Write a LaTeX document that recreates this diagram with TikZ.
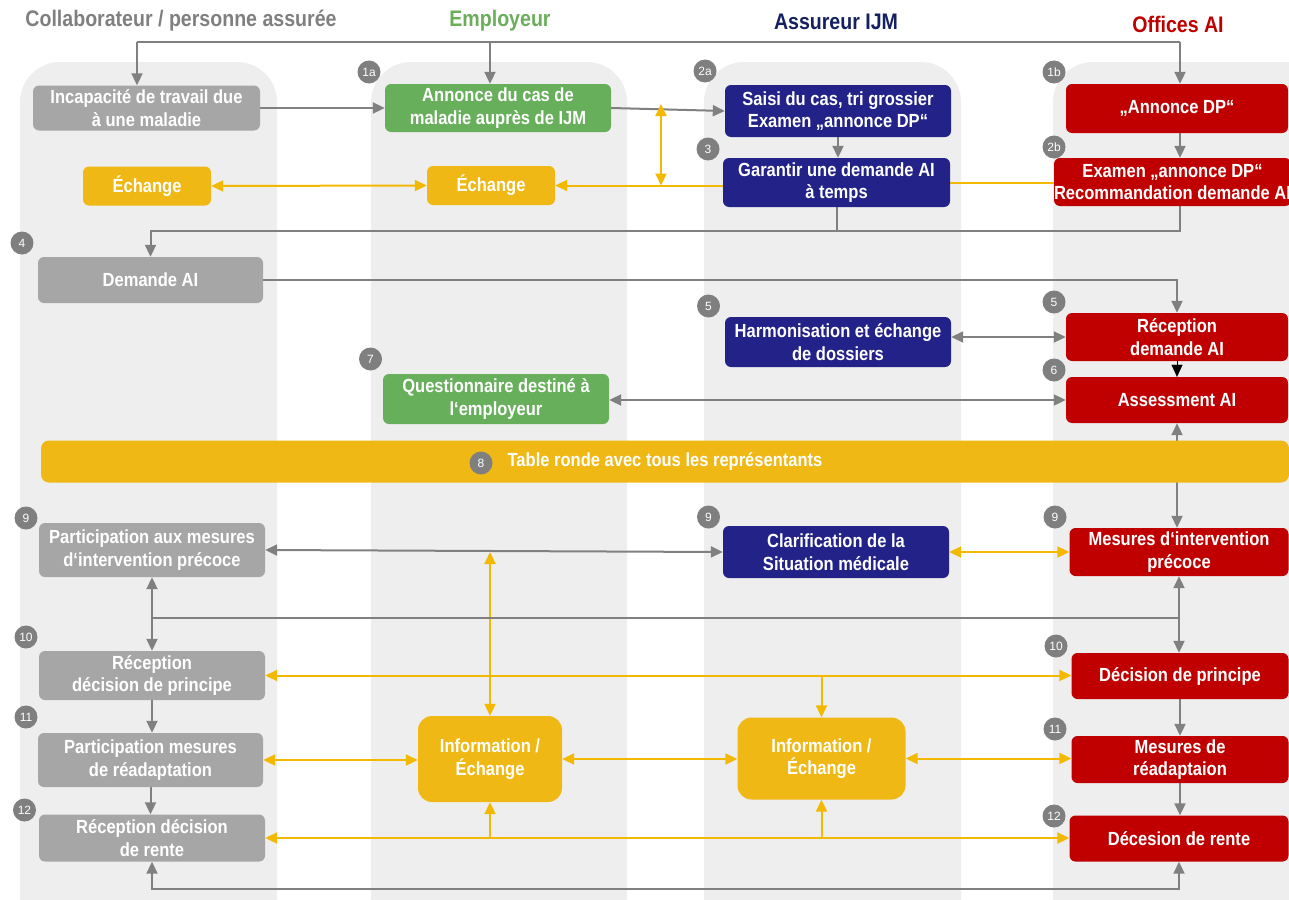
\documentclass[tikz,border=0pt]{standalone}
\usepackage{fontspec}
\setmainfont{Liberation Sans}[FakeStretch=0.87]
\newfontfamily\badgefont{Liberation Sans}
\usetikzlibrary{arrows.meta}
\definecolor{lanebg}{HTML}{EEEEEE}
\definecolor{boxgray}{HTML}{A6A6A6}
\definecolor{linegray}{HTML}{808080}
\definecolor{badgegray}{HTML}{7F7F7F}
\definecolor{boxgreen}{HTML}{67AF5B}
\definecolor{boxnavy}{HTML}{222288}
\definecolor{boxred}{HTML}{C00000}
\definecolor{boxyellow}{HTML}{EFB815}
\definecolor{lineyellow}{HTML}{F3B800}
\definecolor{hgray}{HTML}{7F7F7F}
\definecolor{hgreen}{HTML}{6AAE5A}
\definecolor{hnavy}{HTML}{142060}
\definecolor{hred}{HTML}{C00000}
\pgfdeclarelayer{lanes}
\pgfdeclarelayer{conn}
\pgfsetlayers{lanes,conn,main}
\tikzset{
  lane/.style={fill=lanebg, draw=none, rounded corners=40pt},
  box/.style={rounded corners=6pt, text=white, align=center, inner sep=0pt,
    font=\bfseries\fontsize{19}{22.5}\selectfont},
  gbox/.style={box, fill=boxgray},
  grbox/.style={box, fill=boxgreen},
  nbox/.style={box, fill=boxnavy},
  rbox/.style={box, fill=boxred},
  ybox/.style={box, fill=boxyellow},
  infobox/.style={ybox, rounded corners=14pt},
  head/.style={inner sep=0pt, font=\bfseries\fontsize{22.5}{26}\selectfont},
  badge/.style={circle, fill=badgegray, text=white, minimum size=23pt, inner sep=0pt,
    font=\badgefont\fontsize{12}{12}\selectfont},
  gl/.style={draw=linegray, line width=2pt},
  yl/.style={draw=lineyellow, line width=2pt},
  >={Triangle[width=11pt,length=12pt]},
}
\begin{document}
\begin{tikzpicture}[x=1pt,y=-1pt]
\useasboundingbox (0,0) rectangle (1289,899);
% lanes
\begin{pgfonlayer}{lanes}
\fill[lane] (20,62) rectangle (277,940);
\fill[lane] (371,62) rectangle (627,940);
\fill[lane] (704,62) rectangle (961,940);
\fill[lane] (1053,62) rectangle (1340,940);
\end{pgfonlayer}
% headers
\node[head, text=hgray] (h1) at (181,21) {Collaborateur / personne assurée};
\node[head, text=hgreen] (h2) at (500,21) {Employeur};
\node[head, text=hnavy] (h3) at (836,22) {Assureur IJM};
\node[head, text=hred] (h4) at (1178,24) {Offices AI};
% lane 1 boxes
\node[gbox, minimum width=227pt, minimum height=45pt] (inc) at (146.5,108) {Incapacité de travail due\\à une maladie};
\node[ybox, minimum width=128pt, minimum height=39pt] (ech1) at (147,186) {Échange};
\node[gbox, minimum width=225pt, minimum height=46pt] (dem) at (150.5,280) {Demande AI};
\node[gbox, minimum width=226pt, minimum height=54pt] (part9) at (152,550) {Participation aux mesures\\d‘intervention précoce};
\node[gbox, minimum width=226pt, minimum height=49pt] (rec10) at (152,675.5) {Réception\\décision de principe};
\node[gbox, minimum width=225pt, minimum height=54pt] (part11) at (150.5,760) {Participation mesures\\de réadaptation};
\node[gbox, minimum width=226pt, minimum height=47pt] (rec12) at (152,838) {Réception décision\\de rente};
% lane 2 boxes
\node[grbox, minimum width=226pt, minimum height=48pt] (ann) at (498,108) {Annonce du cas de\\maladie auprès de IJM};
\node[ybox, minimum width=128pt, minimum height=39pt] (ech2) at (491,185.5) {Échange};
\node[grbox, minimum width=226pt, minimum height=50pt] (quest) at (496,399) {Questionnaire destiné à\\l‘employeur};
\node[infobox, minimum width=144pt, minimum height=86pt] (info1) at (490,759) {Information /\\Échange};
% lane 3 boxes
\node[nbox, minimum width=226pt, minimum height=52pt] (saisi) at (838,111) {Saisi du cas, tri grossier\\Examen „annonce DP“};
\node[nbox, minimum width=227pt, minimum height=49pt] (gar) at (836.5,182.5) {Garantir une demande AI\\à temps};
\node[nbox, minimum width=226pt, minimum height=50pt] (harm) at (838,342) {Harmonisation et échange\\de dossiers};
\node[nbox, minimum width=226pt, minimum height=52pt] (clar) at (836,552) {Clarification de la\\Situation médicale};
\node[infobox, minimum width=168pt, minimum height=82pt] (info2) at (821.5,758.5) {Information /\\Échange};
% lane 4 boxes
\node[rbox, minimum width=222pt, minimum height=49pt] (adp) at (1177,108.5) {„Annonce DP“};
\node[rbox, minimum width=231pt, minimum height=48pt] (exam) at (1172.5,182) {Examen „annonce DP“\\Recommandation demande AI};
\node[rbox, minimum width=222pt, minimum height=48pt] (recAI) at (1177,337) {Réception\\demande AI};
\node[rbox, minimum width=222pt, minimum height=46pt] (ass) at (1177,400) {Assessment AI};
\node[rbox, minimum width=219pt, minimum height=48pt] (mes9) at (1179,552) {Mesures d‘intervention\\précoce};
\node[rbox, minimum width=217pt, minimum height=46pt] (dec10) at (1180,676) {Décision de principe};
\node[rbox, minimum width=217pt, minimum height=47pt] (mes11) at (1180,759.5) {Mesures de\\réadaptaion};
\node[rbox, minimum width=219pt, minimum height=46pt] (dec12) at (1179,838.5) {Décesion de rente};
% table ronde
\node[ybox, rounded corners=8pt, minimum width=1248pt, minimum height=42pt] (tr) at (665,461.5) {Table ronde avec tous les représentants};
% badges
\node[badge] (b1a) at (369,72) {1a};
\node[badge] (b2a) at (705,71) {2a};
\node[badge] (b1b) at (1054,72) {1b};
\node[badge] (b3) at (708,149) {3};
\node[badge] (b2b) at (1054,147) {2b};
\node[badge] (b4) at (22,243) {4};
\node[badge] (b5a) at (708.5,306) {5};
\node[badge] (b5b) at (1054,302) {5};
\node[badge] (b6) at (1054,370) {6};
\node[badge] (b7) at (370.5,359) {7};
\node[badge] (b8) at (481,463) {8};
\node[badge] (b9a) at (26,518) {9};
\node[badge] (b9b) at (708.5,517) {9};
\node[badge] (b9c) at (1055,517) {9};
\node[badge] (b10a) at (26,637) {10};
\node[badge] (b10b) at (1056,646) {10};
\node[badge] (b11a) at (26,717) {11};
\node[badge] (b11b) at (1055,729) {11};
\node[badge] (b12a) at (24.5,810) {12};
\node[badge] (b12b) at (1054,816) {12};
% connectors
\begin{pgfonlayer}{conn}
\coordinate (t1) at (137,42);
\coordinate (t2) at (490,42);
\coordinate (t3) at (1180,42);
\draw[gl] (t1) -- (t3);
\draw[gl,->] (t1) -- (t1 |- inc.north);
\draw[gl,->] (t2) -- (t2 |- ann.north);
\draw[gl,->] (t3) -- (t3 |- adp.north);
\draw[gl,->] (inc.east) -- (ann.west);
\draw[gl,->] (ann.east) -- (saisi.west);
\draw[gl,->] (saisi.south) -- (saisi.south |- gar.north);
\draw[gl,->] (adp.south -| t3) -- (t3 |- exam.north);
% yellow row 2
\draw[yl,<->] (ech1.east) -- (ech2.west);
\draw[yl,->] (gar.west |- ech2.east) -- (ech2.east);
\coordinate (ya) at (661,104);
\draw[yl,<->] (ya) -- (ya |- ech2.east);
\draw[yl] (gar.east) -- (gar.east -| exam.west);
% to Demande AI
\coordinate (e1) at (1180,231);
\draw[gl,->] (exam.south -| e1) -- (e1) -| (dem.north);
\draw[gl] (gar.south) -- (gar.south |- e1);
\draw[gl,->] (dem.east) -| (recAI.north);
\draw[gl,<->] (harm.east |- recAI.west) -- (recAI.west);
\draw[-{Triangle[width=11pt,length=12pt]}, draw=black, fill=black, line width=0.1pt] (recAI.south) -- (ass.north);
\draw[gl,<->] (quest.east |- ass.west) -- (ass.west);
\draw[gl,<->] (ass.south) -- (ass.south |- mes9.north);
% row 9
\draw[gl,<->] (part9.east) -- (clar.west);
\draw[yl,<->] (clar.east) -- (clar.east -| mes9.west);
\coordinate (y9) at (490,552);
\draw[yl,<->] (y9) -- (y9 |- info1.north);
% row 10
\coordinate (h10) at (0,618);
\draw[gl,<->] (part9.south) -- (part9.south |- rec10.north);
\draw[gl,<->] (mes9.south) -- (mes9.south |- dec10.north);
\draw[gl] (part9.south |- h10) -- (mes9.south |- h10);
\draw[yl,<->] (rec10.east) -- (rec10.east -| dec10.west);
\draw[yl,->] (info2.north |- rec10.east) -- (info2.north);
% row 11
\draw[gl,->] (rec10.south) -- (rec10.south |- part11.north);
\draw[gl,->] (part11.south) -- (part11.south |- rec12.north);
\draw[gl,->] (dec10.south) -- (dec10.south |- mes11.north);
\draw[gl,->] (mes11.south) -- (mes11.south |- dec12.north);
\draw[yl,<->] (part11.east) -- (part11.east -| info1.west);
\draw[yl,<->] (info1.east) -- (info1.east -| info2.west);
\draw[yl,<->] (info2.east) -- (info2.east -| mes11.west);
% row 12
\draw[yl,<->] (rec12.east) -- (rec12.east -| dec12.west);
\draw[yl,->] (info1.south |- rec12.east) -- (info1.south);
\draw[yl,->] (info2.south |- rec12.east) -- (info2.south);
\coordinate (bot) at (0,889);
\draw[gl,<->] (rec12.south) -- (rec12.south |- bot) -| (dec12.south);
\end{pgfonlayer}
\end{tikzpicture}
\end{document}
